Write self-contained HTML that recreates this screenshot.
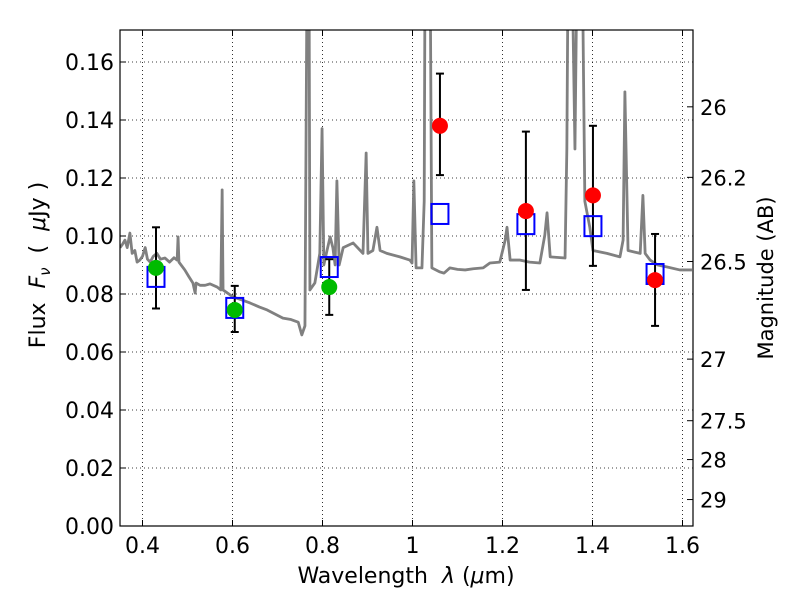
<!DOCTYPE html>
<html><head><meta charset="utf-8"><style>
body{margin:0;background:#fff}
svg text{font-family:"DejaVu Sans","Liberation Sans",sans-serif;fill:#000}
</style></head><body>
<svg id="c" width="800" height="600" xmlns="http://www.w3.org/2000/svg">
<defs><clipPath id="clip"><rect x="120" y="30" width="573" height="496"/></clipPath></defs>
<g id="grid"></g>
<g id="spec" clip-path="url(#clip)"></g>
<g id="marks" clip-path="url(#clip)"></g>
<rect x="120" y="30" width="573" height="496" fill="none" stroke="#000" stroke-width="1.2"/>
<g id="axes"></g>
<text x="406" y="583" font-size="22" text-anchor="middle" xml:space="preserve">Wavelength  <tspan font-style="italic">λ</tspan> (<tspan font-style="italic">μ</tspan>m)</text>
<text transform="translate(45,265) rotate(-90)" font-size="22" text-anchor="middle" xml:space="preserve">Flux  <tspan font-style="italic">F<tspan font-size="15" dy="5">ν</tspan></tspan><tspan dy="-5">  (  </tspan><tspan font-style="italic">μ</tspan>Jy )</text>
<text transform="translate(773,278) rotate(-90)" font-size="21" text-anchor="middle">Magnitude (AB)</text>
</svg>
<script>
const xTicks=[0.4,0.6,0.8,1.0,1.2,1.4,1.6];
const xTickLabels=["0.4","0.6","0.8","1","1.2","1.4","1.6"];
const yTicks=[0,0.02,0.04,0.06,0.08,0.10,0.12,0.14,0.16];
const yTickLabels=["0.00","0.02","0.04","0.06","0.08","0.10","0.12","0.14","0.16"];
const magTicks=[26,26.2,26.5,27,27.5,28,29];
const magTickLabels=["26","26.2","26.5","27","27.5","28","29"];
const specWl=[0.350,0.355,0.361,0.366,0.372,0.377,0.383,0.388,0.394,0.400,0.406,0.411,0.417,0.424,0.432,0.440,0.450,0.460,0.470,0.477,0.479,0.481,0.494,0.503,0.512,0.517,0.519,0.528,0.539,0.550,0.566,0.574,0.577,0.579,0.601,0.620,0.639,0.660,0.677,0.712,0.730,0.746,0.754,0.761,0.766,0.770,0.772,0.783,0.794,0.799,0.803,0.810,0.817,0.823,0.828,0.832,0.837,0.846,0.868,0.890,0.897,0.901,0.912,0.921,0.928,0.943,0.972,0.994,0.999,1.003,1.008,1.021,1.026,1.028,1.039,1.043,1.061,1.070,1.083,1.100,1.117,1.135,1.157,1.172,1.194,1.206,1.210,1.217,1.239,1.260,1.283,1.294,1.299,1.306,1.339,1.343,1.346,1.354,1.361,1.366,1.377,1.383,1.394,1.401,1.432,1.461,1.468,1.472,1.479,1.506,1.512,1.517,1.528,1.545,1.566,1.594,1.621];
const specFlux=[0.096,0.097,0.0986,0.096,0.101,0.094,0.095,0.091,0.0917,0.093,0.096,0.092,0.091,0.093,0.094,0.092,0.0924,0.091,0.0925,0.0917,0.0997,0.091,0.0883,0.086,0.0838,0.0803,0.0838,0.083,0.083,0.0835,0.0824,0.0814,0.1159,0.0814,0.079,0.078,0.0769,0.0755,0.0745,0.0717,0.0712,0.0703,0.0659,0.069,0.2,0.2,0.0814,0.0838,0.094,0.137,0.09,0.095,0.0997,0.096,0.09,0.119,0.09,0.096,0.0976,0.094,0.1286,0.094,0.095,0.103,0.095,0.094,0.0928,0.0917,0.0907,0.119,0.089,0.089,0.112,0.2,0.2,0.089,0.0876,0.0872,0.089,0.0885,0.0883,0.0887,0.089,0.0907,0.091,0.0986,0.103,0.0917,0.0917,0.091,0.0907,0.1003,0.108,0.0928,0.0924,0.13,0.2,0.2,0.13,0.2,0.2,0.112,0.103,0.095,0.094,0.0928,0.0986,0.1497,0.095,0.094,0.114,0.094,0.0917,0.090,0.0893,0.0883,0.0883];
const greenWl=[0.43,0.605,0.815];
const greenFlux=[0.089,0.0745,0.0824];
const greenLo=[0.075,0.0669,0.0728];
const greenHi=[0.103,0.0828,0.092];
const redWl=[1.061,1.252,1.401,1.539];
const redFlux=[0.138,0.1086,0.114,0.0848];
const redLo=[0.121,0.0814,0.0897,0.069];
const redHi=[0.156,0.136,0.138,0.1007];
const modelWl=[0.43,0.605,0.815,1.061,1.252,1.401,1.539];
const modelFlux=[0.0859,0.0752,0.0893,0.1076,0.1041,0.1034,0.0869];

const NS="http://www.w3.org/2000/svg";
const X=v=>120+(v-0.35)*450;
const Y=v=>526-v*2900;
const M=m=>Y(Math.pow(10,(23.9-m)/2.5));
function mk(tag,attrs,parent){const e=document.createElementNS(NS,tag);for(const k in attrs)e.setAttribute(k,attrs[k]);document.getElementById(parent).appendChild(e);return e;}
xTicks.forEach((t,i)=>{
 const l=mk('line',{x1:X(t),x2:X(t),y1:30,y2:526,stroke:'#000','stroke-width':0.8,'stroke-dasharray':'1,3'},'grid');
 
 
 const tx=mk('text',{x:X(t),y:553,'font-size':22,'text-anchor':'middle'},'axes');tx.textContent=xTickLabels[i];
 
 
 mk('line',{x1:X(t),x2:X(t),y1:526,y2:520,stroke:'#000'},'axes');
 mk('line',{x1:X(t),x2:X(t),y1:30,y2:36,stroke:'#000'},'axes');
});
yTicks.forEach((t,i)=>{
 const l=mk('line',{x1:120,x2:693,y1:Y(t),y2:Y(t),stroke:'#000','stroke-width':0.8,'stroke-dasharray':'1,3'},'grid');
 
 
 const tx=mk('text',{x:114,y:Y(t)+8,'font-size':22,'text-anchor':'end'},'axes');tx.textContent=yTickLabels[i];
 
 
 mk('line',{x1:120,x2:126,y1:Y(t),y2:Y(t),stroke:'#000'},'axes');
});
magTicks.forEach((m,i)=>{
 mk('line',{x1:687,x2:693,y1:M(m),y2:M(m),stroke:'#000'},'axes');
 const tx=mk('text',{x:700,y:M(m)+8,'font-size':21},'axes');tx.textContent=magTickLabels[i];
 
 
});
const sp=mk('polyline',{points:specWl.map((w,i)=>X(w)+','+Y(specFlux[i])).join(' '),fill:'none',stroke:'#808080','stroke-width':2.8,'stroke-linejoin':'round'},'spec');


function err(w,lo,hi){
 mk('line',{x1:X(w),x2:X(w),y1:Y(lo),y2:Y(hi),stroke:'#000','stroke-width':2},'marks');
 mk('line',{x1:X(w)-4,x2:X(w)+4,y1:Y(lo),y2:Y(lo),stroke:'#000','stroke-width':2},'marks');
 mk('line',{x1:X(w)-4,x2:X(w)+4,y1:Y(hi),y2:Y(hi),stroke:'#000','stroke-width':2},'marks');
}
greenWl.forEach((w,i)=>err(w,greenLo[i],greenHi[i]));
redWl.forEach((w,i)=>err(w,redLo[i],redHi[i]));
modelWl.forEach((w,i)=>{
 const r=mk('rect',{x:X(w)-8.5,y:Y(modelFlux[i])-10,width:17,height:20,fill:'none',stroke:'#0000ff','stroke-width':2},'marks');
 
 
});
greenWl.forEach((w,i)=>{
 const c=mk('circle',{cx:X(w),cy:Y(greenFlux[i]),r:8,fill:'#00bb00'},'marks');
 
 
});
redWl.forEach((w,i)=>{
 const c=mk('circle',{cx:X(w),cy:Y(redFlux[i]),r:8,fill:'#ff0000'},'marks');
 
 
});
</script>
</body></html>
